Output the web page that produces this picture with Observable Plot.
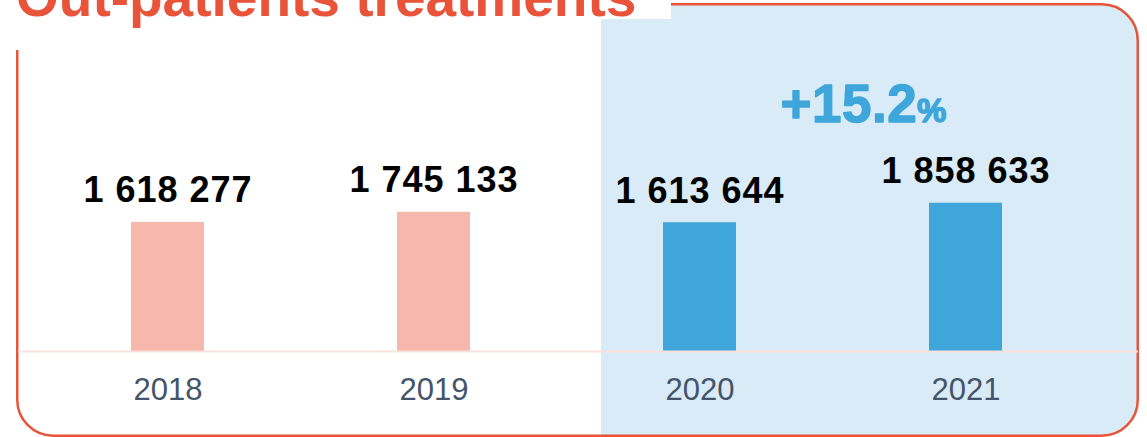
<!DOCTYPE html>
<html>
<head>
<meta charset="utf-8">
<script src="https://cdn.jsdelivr.net/npm/d3@7"></script>
<script src="https://cdn.jsdelivr.net/npm/@observablehq/plot@0.6"></script>
<style>
  html, body { margin: 0; padding: 0; background: #fff; }
  #wrap { position: relative; width: 1147px; height: 437px; overflow: hidden; }
  #backdrop, #chart { position: absolute; left: 0; top: 0; }
</style>
</head>
<body>
<div id="wrap">
  <svg id="backdrop" width="1147" height="437" xmlns="http://www.w3.org/2000/svg">
    <defs>
      <clipPath id="frameClip">
        <rect x="17.25" y="4.25" width="1120.5" height="431.5" rx="36" ry="36"></rect>
      </clipPath>
    </defs>
    <rect x="601" y="0" width="600" height="437" fill="#d9ebf6" clip-path="url(#frameClip)"></rect>
    <rect x="17.25" y="4.25" width="1120.5" height="431.5" rx="36" ry="36" fill="none" stroke="#e8533a" stroke-width="2.5"></rect>
    <rect x="0" y="0" width="671" height="19" fill="#fff"></rect>
    <rect x="0" y="0" width="30" height="50" fill="#fff"></rect>
    <text id="title" x="16" y="16" fill="#e8533a" font-family="'Liberation Sans', Arial, sans-serif" font-weight="bold" font-size="55">Out-patients treatments</text>
    <text id="growth" x="780.5" y="121.5" fill="#3ea6da" stroke="#3ea6da" stroke-width="1.4" stroke-linejoin="round" font-family="'Liberation Sans', Arial, sans-serif" font-weight="bold" letter-spacing="0.5"></text>
  </svg>
  <div id="chart"></div>
</div>
<script>
// ---- data ----
const years = ["2018", "2019", "2020", "2021"];
const treatments = [1618277, 1745133, 1613644, 1858633];

const pink = "#f6b8ac";
const blue = "#3ea6da";

const data = years.map((y, i) => ({year: y, value: treatments[i]}));
const fmt = d3.formatLocale({decimal: ".", thousands: " ", grouping: [3], currency: ["", ""]}).format(",d");

// growth annotation computed from the data (2020 -> 2021)
const growth = (treatments[3] - treatments[2]) / treatments[2] * 100;
const g = document.getElementById("growth");
const t1 = document.createElementNS("http://www.w3.org/2000/svg", "tspan");
t1.setAttribute("font-size", "53");
t1.textContent = "+" + growth.toFixed(1);
const t2 = document.createElementNS("http://www.w3.org/2000/svg", "tspan");
t2.setAttribute("font-size", "33");
t2.textContent = "%";
g.appendChild(t1); g.appendChild(t2);

const chart = Plot.plot({
  width: 1147,
  height: 437,
  marginLeft: 33,
  marginRight: 48,
  marginTop: 0,
  marginBottom: 86,
  style: {background: "transparent", fontFamily: "'Liberation Sans', Arial, sans-serif", overflow: "visible"},
  x: {domain: years, paddingInner: 0.726, paddingOuter: 0.363, axis: null},
  y: {domain: [0, 4400000], axis: null},
  color: {domain: years, range: [pink, pink, blue, blue]},
  marks: [
    Plot.barY(data, {x: "year", y: "value", fill: "year"}),
    Plot.ruleY([0], {stroke: "#fbe1dc", strokeWidth: 2, insetLeft: -15, insetRight: -39}),
    Plot.text(data, {x: "year", y: "value", text: d => fmt(d.value), dy: -20, lineAnchor: "bottom",
                     fontSize: 36, fontWeight: "bold", fill: "#000"}),
    Plot.text(years, {x: d => d, frameAnchor: "bottom", dy: 48, lineAnchor: "bottom",
                      fontSize: 31, fill: "#44546a"})
  ]
});
document.getElementById("chart").appendChild(chart);
d3.select(chart).selectAll('g[aria-label="text"]').filter((d, i) => i === 0).style("letter-spacing", "1px");
</script>
</body>
</html>
